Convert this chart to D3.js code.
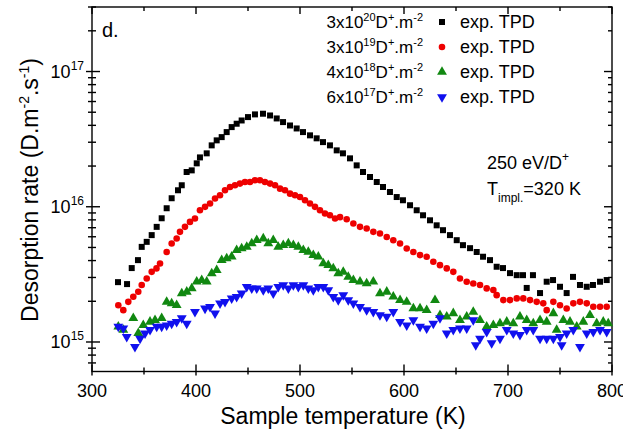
<!DOCTYPE html>
<html><head><meta charset="utf-8">
<script src="https://cdn.jsdelivr.net/npm/d3@7/dist/d3.min.js"></script>
<style>html,body{margin:0;padding:0;background:#fff;}svg{display:block;font-family:"Liberation Sans",Arial,sans-serif;}</style>
</head><body>
<script>
// Data: [temperature (K), desorption rate (D m^-2 s^-1)]
const series1 = [[325,2.77e15],[333.7,2.68e15],[338.2,3.52e15],[344.2,4.03e15],[347.8,5.05e15],[352.6,5.50e15],[357.4,6.17e15],[362.2,7.10e15],[367,8.22e15],[371.8,9.75e15],[376.6,1.156e16],[382.7,1.324e16],[386.3,1.442e16],[391,1.807e16],[395.9,1.858e16],[400.7,2.094e16],[403.8,2.317e16],[410.3,2.483e16],[415.1,2.844e16],[419.9,3.097e16],[424.7,3.273e16],[429.5,3.565e16],[434.3,3.882e16],[439.1,4.111e16],[443.9,4.345e16],[450,4.603e16],[456.7,4.819e16],[464.4,4.875e16],[471.2,4.732e16],[477.6,4.498e16],[483.7,4.227e16],[490.4,3.990e16],[496.8,3.793e16],[502.9,3.565e16],[509.6,3.373e16],[516,3.206e16],[522.1,3.006e16],[528.8,2.844e16],[535.3,2.612e16],[541.3,2.483e16],[548.1,2.280e16],[554.5,2.023e16],[560.6,1.807e16],[567.3,1.660e16],[573.8,1.524e16],[579.8,1.400e16],[586.5,1.285e16],[593,1.180e16],[599,1.117e16],[605.8,1.026e16],[612.2,9.42e15],[618.3,8.65e15],[625,7.94e15],[631.4,7.29e15],[637.5,6.71e15],[644.2,6.17e15],[650.7,5.66e15],[656.7,5.20e15],[663.5,4.94e15],[669.9,4.63e15],[676,4.27e15],[682.7,4.03e15],[689.1,3.60e15],[695.2,3.52e15],[701.9,3.23e15],[708.4,3.12e15],[714.4,3.12e15],[718,2.51e15],[724,3.12e15],[730.8,2.30e15],[737.2,2.79e15],[743.3,2.87e15],[750,2.56e15],[756.4,2.30e15],[762.5,3.03e15],[769.2,2.64e15],[775.7,2.56e15],[781.7,2.64e15],[788.5,2.79e15],[794.9,2.87e15]];

const series2 = [[325.3,1.87e15],[330.1,1.72e15],[334.9,1.98e15],[339.7,2.16e15],[344.5,2.35e15],[347.8,2.64e15],[352.6,2.95e15],[357.4,3.30e15],[362,3.50e15],[365.4,3.81e15],[371.8,4.63e15],[376.6,5.35e15],[381.4,5.82e15],[384.6,6.52e15],[389.4,7.10e15],[394.2,7.73e15],[399,8.18e15],[403.8,9.42e15],[408.7,9.98e15],[413.5,1.057e16],[418.3,1.151e16],[423.1,1.216e16],[427.9,1.324e16],[432.7,1.400e16],[437.5,1.442e16],[442.3,1.483e16],[447.1,1.524e16],[451.9,1.524e16],[456.7,1.570e16],[461.5,1.570e16],[466.3,1.524e16],[471.2,1.483e16],[476,1.442e16],[480.8,1.361e16],[485.6,1.324e16],[490.4,1.250e16],[495.2,1.216e16],[500,1.180e16],[504.8,1.117e16],[509.6,1.057e16],[514.4,9.98e15],[519.2,9.42e15],[524,8.91e15],[528.8,8.65e15],[533.7,8.18e15],[538.5,8.38e15],[544.9,8.09e15],[551.3,7.52e15],[557.7,7.10e15],[564.1,6.90e15],[570.5,6.52e15],[576.9,6.34e15],[583.4,5.98e15],[589.7,5.66e15],[596.2,5.35e15],[602.6,4.91e15],[609,4.63e15],[615.4,4.39e15],[621.8,4.27e15],[628.2,3.92e15],[634.6,3.70e15],[641.1,3.50e15],[647.4,3.30e15],[653.8,2.95e15],[660.3,2.79e15],[666.6,2.71e15],[673.1,2.64e15],[679.5,2.49e15],[685.9,2.42e15],[689.1,2.22e15],[695.5,2.04e15],[701.9,2.04e15],[708.4,2.10e15],[714.7,2.10e15],[721.2,2.04e15],[727.6,1.98e15],[733.9,1.93e15],[737.2,1.72e15],[743.6,1.98e15],[750,1.87e15],[756.4,1.77e15],[762.8,1.93e15],[769.2,1.98e15],[775.7,1.93e15],[782,1.82e15],[788.5,1.82e15],[794.9,1.82e15]];

const series3 = [[325.3,1.30e15],[330.1,1.23e15],[339.7,1.50e15],[344.5,1.16e15],[349.3,1.33e15],[355.8,1.41e15],[360.6,1.45e15],[367,1.50e15],[371.8,1.98e15],[376.6,1.93e15],[381.4,1.87e15],[386.3,2.29e15],[391.1,2.35e15],[395.9,2.49e15],[400.7,2.79e15],[405.5,2.87e15],[410.3,2.79e15],[415.1,3.21e15],[419.9,3.40e15],[424.7,4.03e15],[429.5,4.15e15],[434.3,4.27e15],[439.1,4.78e15],[443.9,4.92e15],[448.8,5.05e15],[453.6,5.35e15],[458.4,5.66e15],[464.7,5.82e15],[469.5,5.35e15],[474.3,5.66e15],[479.1,5.05e15],[483.9,5.20e15],[488.8,5.35e15],[493.6,5.20e15],[498.4,5.05e15],[503.2,4.78e15],[508,4.63e15],[512.8,4.39e15],[517.6,4.27e15],[522.4,3.81e15],[527.2,3.70e15],[532,3.50e15],[536.8,3.21e15],[541.6,3.30e15],[546.4,3.03e15],[551.3,2.87e15],[557.7,2.79e15],[564.1,2.71e15],[570.5,2.79e15],[576.9,2.29e15],[583.4,2.35e15],[589.7,2.16e15],[596.2,2.04e15],[602.6,1.98e15],[609,1.77e15],[615.4,1.77e15],[621.8,1.72e15],[629.8,2.04e15],[634.6,1.58e15],[641.1,1.54e15],[647.4,1.63e15],[653.8,1.45e15],[660.3,1.54e15],[666.6,1.67e15],[673.1,1.45e15],[679.5,1.30e15],[685.9,1.33e15],[692.3,1.37e15],[698.8,1.41e15],[705.1,1.37e15],[711.5,1.54e15],[718,1.45e15],[724.3,1.37e15],[730.8,1.45e15],[737.2,1.41e15],[743.6,1.63e15],[746.8,1.23e15],[753.2,1.45e15],[759.6,1.41e15],[766.1,1.30e15],[772.4,1.41e15],[778.8,1.58e15],[785.3,1.37e15],[791.6,1.41e15],[796.4,1.37e15]];

const series4 = [[325.3,1.30e15],[330.1,1.26e15],[333.4,1.09e15],[341.3,9.2e14],[346.2,1.06e15],[351,1.16e15],[355.8,1.23e15],[362.2,1.30e15],[367,1.30e15],[371.8,1.33e15],[376.6,1.37e15],[381.4,1.41e15],[386.3,1.50e15],[391.1,1.37e15],[399,1.67e15],[408.7,1.77e15],[413.5,1.82e15],[418.3,1.63e15],[423.1,1.93e15],[427.9,1.98e15],[434.3,2.10e15],[439.1,2.16e15],[443.9,2.29e15],[448.8,2.56e15],[453.6,2.49e15],[458.4,2.49e15],[464.7,2.42e15],[469.5,2.49e15],[474.3,2.29e15],[479.1,2.56e15],[483.9,2.64e15],[488.8,2.49e15],[493.6,2.64e15],[498.4,2.56e15],[503.2,2.64e15],[508,2.49e15],[512.8,2.42e15],[517.6,2.56e15],[522.4,2.56e15],[527.2,2.42e15],[532,2.16e15],[536.8,2.04e15],[541.6,2.22e15],[546.4,2.04e15],[551.3,1.93e15],[557.7,1.82e15],[564.1,1.72e15],[570.5,1.67e15],[576.9,1.58e15],[583.4,1.54e15],[589.7,1.67e15],[596.2,1.41e15],[602.6,1.33e15],[609,1.45e15],[615.4,1.30e15],[621.8,1.26e15],[628.2,1.37e15],[634.6,1.50e15],[641.1,1.16e15],[647.4,1.23e15],[653.8,1.26e15],[660.3,1.26e15],[666.6,1.45e15],[669,9.5e14],[673.1,1.06e15],[679.5,1.19e15],[684.3,9.8e14],[692.3,1.06e15],[698.8,1.23e15],[705.1,1.16e15],[711.5,1.13e15],[718,1.23e15],[724.3,1.23e15],[730.8,1.06e15],[737.2,1.06e15],[743.6,1.06e15],[750,1.09e15],[751.6,9.5e14],[756.4,1.16e15],[762.8,1.23e15],[769.2,9.2e14],[775.7,1.16e15],[782,1.19e15],[788.5,1.23e15],[794.9,1.19e15]];

const fluences = [["3x10","20"],["3x10","19"],["4x10","18"],["6x10","17"]];
const colors = ["#000000","#ee0000","#118811","#1010ee"];
const xTickValues = [300,400,500,600,700,800];
const yDecades = [15,16,17];

const W = 623, H = 436;
const svg = d3.select("body").append("svg").attr("width", W).attr("height", H);
const x = d3.scaleLinear().domain([300, 800]).range([92, 612]);
const y = d3.scaleLog().domain([6.05e14, 3e17]).range([371.5, 7]);
const x0 = 92, x1 = 612, y0 = 371.5, y1 = 7;

// minor log ticks
const minorY = [];
for (let e = 14; e <= 17; e++) for (let m = 2; m <= 9; m++) { const v = m * Math.pow(10, e); if (v >= 6.05e14 && v <= 3e17) minorY.push(v); }
const minorX = [350,450,550,650,750];

const ax = svg.append("g").attr("stroke", "#000").attr("stroke-width", 1.4);
// frame
ax.append("rect").attr("x", x0).attr("y", y1).attr("width", x1 - x0).attr("height", y0 - y1).attr("fill", "none");
// left axis ticks (cross)
yDecades.forEach(e => { const yy = y(Math.pow(10, e)); ax.append("line").attr("x1", x0 - 6).attr("x2", x0 + 8).attr("y1", yy).attr("y2", yy);
  ax.append("line").attr("x1", x1 - 8).attr("x2", x1).attr("y1", yy).attr("y2", yy); });
minorY.forEach(v => { const yy = y(v); ax.append("line").attr("x1", x0 - 4).attr("x2", x0 + 4).attr("y1", yy).attr("y2", yy);
  ax.append("line").attr("x1", x1 - 4).attr("x2", x1).attr("y1", yy).attr("y2", yy); });
// bottom / top ticks
xTickValues.forEach(t => { const xx = x(t); ax.append("line").attr("x1", xx).attr("x2", xx).attr("y1", y0 + 4).attr("y2", y0 - 7);
  ax.append("line").attr("x1", xx).attr("x2", xx).attr("y1", y1).attr("y2", y1 + 7); });
minorX.forEach(t => { const xx = x(t); ax.append("line").attr("x1", xx).attr("x2", xx).attr("y1", y0 + 3).attr("y2", y0 - 4);
  ax.append("line").attr("x1", xx).attr("x2", xx).attr("y1", y1).attr("y2", y1 + 4); });

// tick labels
xTickValues.forEach(t => svg.append("text").attr("x", x(t)).attr("y", 397).attr("text-anchor", "middle").attr("font-size", 18).text(t));
yDecades.forEach(e => { const t = svg.append("text").attr("x", 84).attr("y", y(Math.pow(10, e)) + 6).attr("text-anchor", "end").attr("font-size", 18);
  t.append("tspan").text("10"); t.append("tspan").attr("font-size", 12).attr("dy", -8).text(e); });

// axis titles
svg.append("text").attr("x", 343).attr("y", 424).attr("text-anchor", "middle").attr("font-size", 23).text("Sample temperature (K)");
const yt = svg.append("text").attr("transform", "translate(38,190) rotate(-90)").attr("text-anchor", "middle").attr("font-size", 23);
yt.append("tspan").text("Desorption rate (D.m");
yt.append("tspan").attr("font-size", 14).attr("dy", -9).text("-2");
yt.append("tspan").attr("dy", 9).text(".s");
yt.append("tspan").attr("font-size", 14).attr("dy", -9).text("-1");
yt.append("tspan").attr("dy", 9).text(")");

// symbols
const symTypes = [d3.symbolSquare, d3.symbolCircle, d3.symbolTriangle, d3.symbolTriangle];
const symSizes = [36, 34, 42, 42];
const symRot = [0, 0, 0, 180];
[series1, series2, series3, series4].forEach((s, i) => {
  const path = d3.symbol().type(symTypes[i]).size(symSizes[i])();
  svg.append("g").selectAll("path").data(s).join("path")
    .attr("d", path).attr("fill", colors[i])
    .attr("transform", d => `translate(${x(d[0])},${y(d[1])}) rotate(${symRot[i]})`);
});

// legend
fluences.forEach((f, i) => {
  const yy = 28 + i * 25;
  const t = svg.append("text").attr("x", 423).attr("y", yy).attr("text-anchor", "end").attr("font-size", 17);
  t.append("tspan").text(f[0]);
  t.append("tspan").attr("font-size", 11).attr("dy", -7).text(f[1]);
  t.append("tspan").attr("dy", 7).text("D");
  t.append("tspan").attr("font-size", 11).attr("dy", -7).text("+");
  t.append("tspan").attr("dy", 7).text(".m");
  t.append("tspan").attr("font-size", 11).attr("dy", -7).text("-2");
  svg.append("path").attr("d", d3.symbol().type(symTypes[i]).size(symSizes[i])()).attr("fill", colors[i])
    .attr("transform", `translate(442,${yy - 6}) rotate(${symRot[i]})`);
  svg.append("text").attr("x", 460).attr("y", yy).attr("font-size", 18).text("exp. TPD");
});

// panel label and annotation
svg.append("text").attr("x", 102).attr("y", 37).attr("font-size", 20).text("d.");
const a1 = svg.append("text").attr("x", 487).attr("y", 169).attr("font-size", 18);
a1.append("tspan").text("250 eV/D");
a1.append("tspan").attr("font-size", 12).attr("dy", -8).text("+");
const a2 = svg.append("text").attr("x", 487).attr("y", 195).attr("font-size", 18);
a2.append("tspan").text("T");
a2.append("tspan").attr("font-size", 12).attr("dy", 7).text("impl.");
a2.append("tspan").attr("dy", -7).text("=320 K");
</script>
</body></html>
